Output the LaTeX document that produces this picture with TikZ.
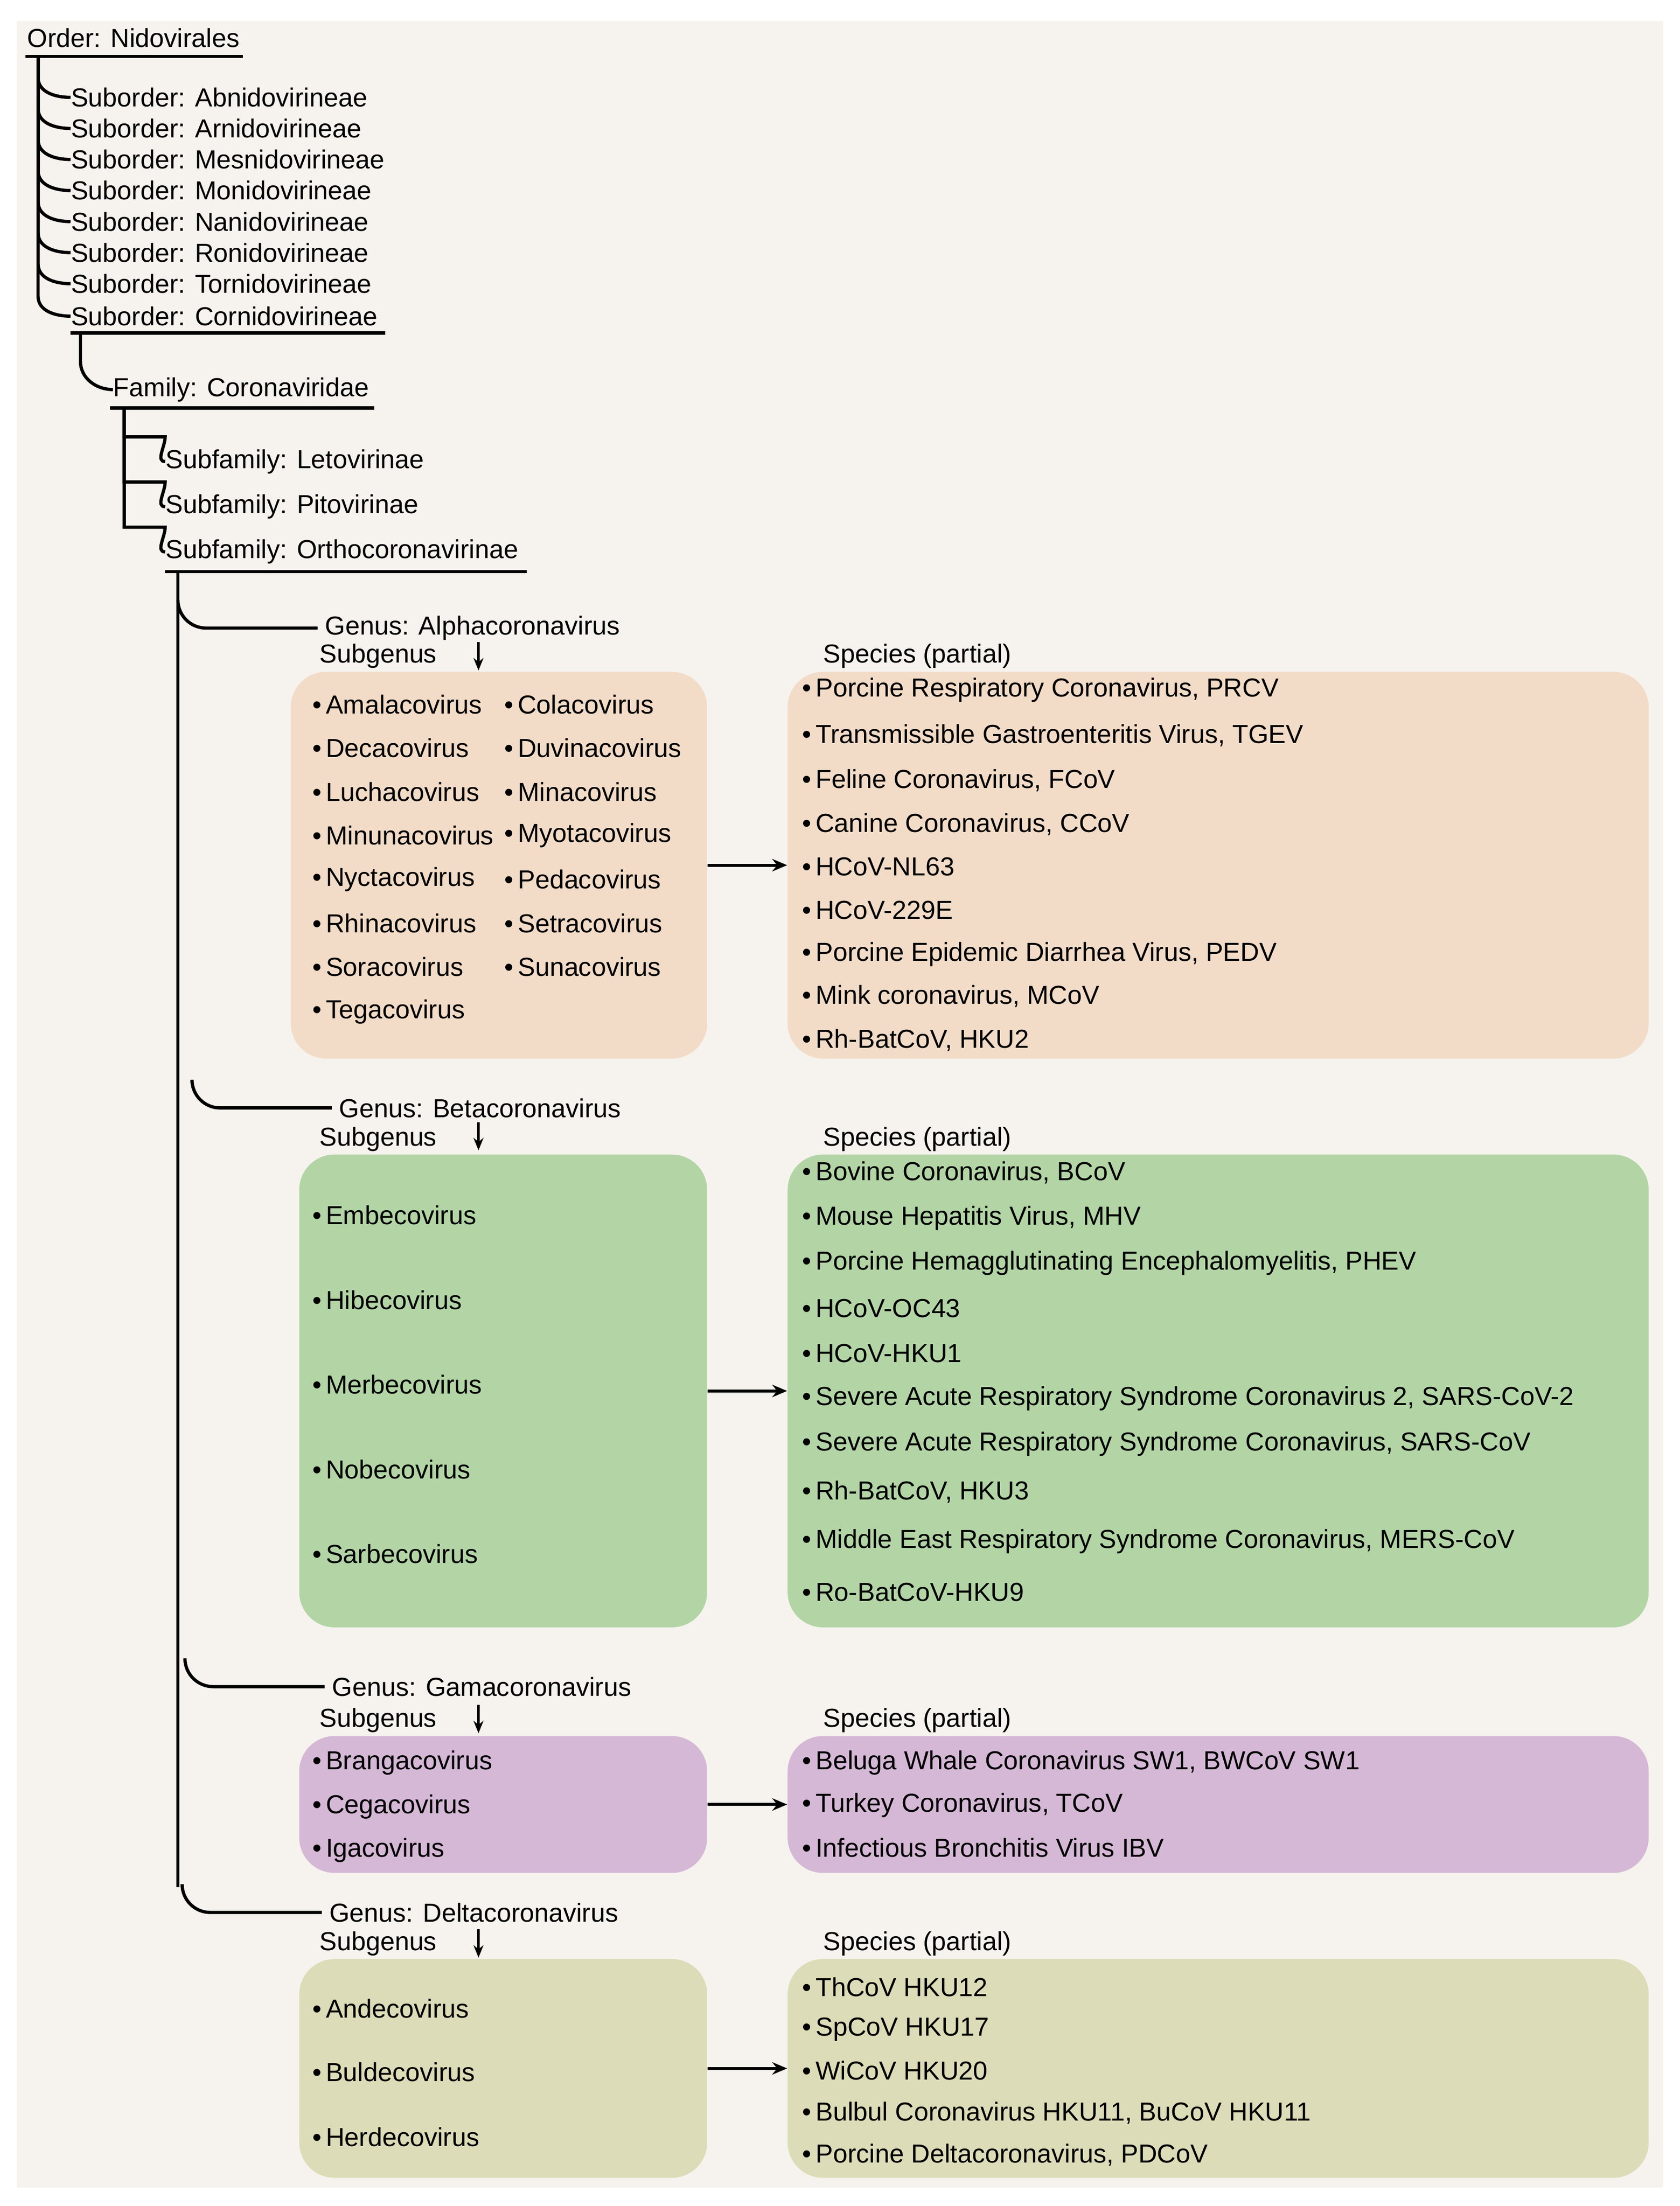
\documentclass[tikz,border=0pt]{standalone}
\usepackage{fontspec}
\setmainfont{Liberation Sans}
\usetikzlibrary{arrows.meta,fit}
\definecolor{paper}{HTML}{F6F3EE}
\definecolor{alphac}{HTML}{F2DCC8}
\definecolor{betac}{HTML}{B3D5A6}
\definecolor{gammac}{HTML}{D5B8D6}
\definecolor{deltac}{HTML}{DDDCB8}
\tikzset{
  lbl/.style={anchor=west,inner sep=0pt,font=\fontsize{10.5}{12}\selectfont},
  tree/.style={line width=1.3pt},
  box/.style={rounded corners=0.5cm,inner sep=0pt},
  link/.style={line width=1.2pt,-{Stealth[length=6pt,width=5pt]}}
}
\begin{document}
\begin{tikzpicture}[x=0.02cm,y=-0.02cm]
            \useasboundingbox (0,0) rectangle (1190,1563);
            \fill[paper] (12,15) rectangle (1178,1550);
            % order and suborders
            \node[lbl] (order) at (19,27) {Order: Nidovirales};
            \draw[tree] (18,40) -- (172,40);
            \foreach \y/\t in {69/Abnidovirineae,91/Arnidovirineae,113/Mesnidovirineae,135/Monidovirineae,157/Nanidovirineae,179/Ronidovirineae,201/Tornidovirineae,224/Cornidovirineae}{
              \node[lbl] (sub\y) at (50,\y) {Suborder: \t};
              \draw[tree] (27,40) -- (27,\y-14) to[out=-90,in=180] (sub\y.west);
            }
            \draw[tree] (50,236) -- (273,236);
            % family
            \node[lbl] (fam) at (80,276) {Family: Coronaviridae};
            \draw[tree] (57,236) -- (57,256) to[out=-90,in=180] (fam.west);
            \draw[tree] (78,289) -- (265,289);
            \node[lbl] (sf1) at (117,327) {Subfamily: Letovirinae};
            \node[lbl] (sf2) at (117,359) {Subfamily: Pitovirinae};
            \node[lbl] (sf3) at (117,391) {Subfamily: Orthocoronavirinae};
            \foreach \n in {sf1,sf2,sf3}
              \draw[tree] (88,289) |- ([yshift=0.35cm]\n.west) to[out=-90,in=180] (\n.west);
            \draw[tree] (117,405) -- (373,405);
            % genera
            \node[lbl] (ga) at (230,445) {Genus: Alphacoronavirus};
            \node[lbl] (gb) at (240,785) {Genus: Betacoronavirus};
            \node[lbl] (gg) at (235,1195) {Genus: Gamacoronavirus};
            \node[lbl] (gd) at (233,1355) {Genus: Deltacoronavirus};
            \draw[tree] (126,405) -- (126,1337);
            \foreach \n in {ga,gb,gg,gd}
              \draw[tree] ([xshift=-2.08cm,yshift=0.4cm]\n.west) to[out=-90,in=180] ([xshift=-1.68cm]\n.west) -- ([xshift=-0.1cm]\n.west);
            % boxes
            \node[box,fill=alphac,fit={(206,476) (501,750)}] (asub) {};
            \node[box,fill=alphac,fit={(558,476) (1168,750)}] (aspe) {};
            \node[box,fill=betac,fit={(212,818) (501,1153)}] (bsub) {};
            \node[box,fill=betac,fit={(558,818) (1168,1153)}] (bspe) {};
            \node[box,fill=gammac,fit={(212,1230) (501,1327)}] (gsub) {};
            \node[box,fill=gammac,fit={(558,1230) (1168,1327)}] (gspe) {};
            \node[box,fill=deltac,fit={(212,1388) (501,1543)}] (dsub) {};
            \node[box,fill=deltac,fit={(558,1388) (1168,1543)}] (dspe) {};
            \foreach \s/\t in {asub/aspe,bsub/bspe,gsub/gspe,dsub/dspe}
              \draw[link] (\s.east) -- (\t.west);
            % subgenus and species headers
            \foreach \y/\a in {465/455,807/795,1219/1208,1377/1367}{
              \node[lbl] (sg\y) at (226,\y) {Subgenus};
              \coordinate (top\y) at (339,\a);
              \coordinate (bot\y) at (339,\a+20);
              \draw[line width=1pt,-{Stealth[length=5pt,width=4pt]}] (top\y) -- (bot\y);
              \node[lbl] (sp\y) at (583,\y) {Species (partial)};
            }
            % alpha
            \foreach \y/\p/\q in {499/Amalacovirus/Colacovirus,530/Decacovirus/Duvinacovirus,561/Luchacovirus/Minacovirus,592/Minunacovirus/Myotacovirus,623/Nyctacovirus/Pedacovirus,654/Rhinacovirus/Setracovirus,685/Soracovirus/Sunacovirus}{
              \node[lbl] (ap\y) at (221,\y) {\textbullet\,\p};
              \node[lbl] (aq\y) at (357,\y) {\textbullet\,\q};
            }
            \node[lbl] (ap717) at (221,717) {\textbullet\,Tegacovirus};
            \foreach \y/\t in {489/{Porcine Respiratory Coronavirus, PRCV},521/{Transmissible Gastroenteritis Virus, TGEV},553/{Feline Coronavirus, FCoV},584/{Canine Coronavirus, CCoV},614/{HCoV-NL63},645/{HCoV-229E},676/{Porcine Epidemic Diarrhea Virus, PEDV},706/{Mink coronavirus, MCoV},737/{Rh-BatCoV, HKU2}}
              \node[lbl] (as\y) at (568,\y) {\textbullet\,\t};
            % beta
            \foreach \y/\t in {861/Embecovirus,921/Hibecovirus,981/Merbecovirus,1041/Nobecovirus,1101/Sarbecovirus}
              \node[lbl] (bp\y) at (221,\y) {\textbullet\,\t};
            \foreach \y/\t in {831/{Bovine Coronavirus, BCoV},863/{Mouse Hepatitis Virus, MHV},895/{Porcine Hemagglutinating Encephalomyelitis, PHEV},927/{HCoV-OC43},959/{HCoV-HKU1},991/{Severe Acute Respiratory Syndrome Coronavirus 2, SARS-CoV-2},1023/{Severe Acute Respiratory Syndrome Coronavirus, SARS-CoV},1057/{Rh-BatCoV, HKU3},1092/{Middle East Respiratory Syndrome Coronavirus, MERS-CoV},1128/{Ro-BatCoV-HKU9}}
              \node[lbl] (bs\y) at (568,\y) {\textbullet\,\t};
            % gamma
            \foreach \y/\t in {1249/Brangacovirus,1280/Cegacovirus,1311/Igacovirus}
              \node[lbl] (gp\y) at (221,\y) {\textbullet\,\t};
            \foreach \y/\t in {1249/{Beluga Whale Coronavirus SW1, BWCoV SW1},1279/{Turkey Coronavirus, TCoV},1309/{Infectious Bronchitis Virus IBV}}
              \node[lbl] (gs\y) at (568,\y) {\textbullet\,\t};
            % delta
            \foreach \y/\t in {1423/Andecovirus,1468/Buldecovirus,1514/Herdecovirus}
              \node[lbl] (dp\y) at (221,\y) {\textbullet\,\t};
            \foreach \y/\t in {1408/{ThCoV HKU12},1438/{SpCoV HKU17},1467/{WiCoV HKU20},1497/{Bulbul Coronavirus HKU11, BuCoV HKU11},1527/{Porcine Deltacoronavirus, PDCoV}}
              \node[lbl] (ds\y) at (568,\y) {\textbullet\,\t};
        \end{tikzpicture}
\end{document}
